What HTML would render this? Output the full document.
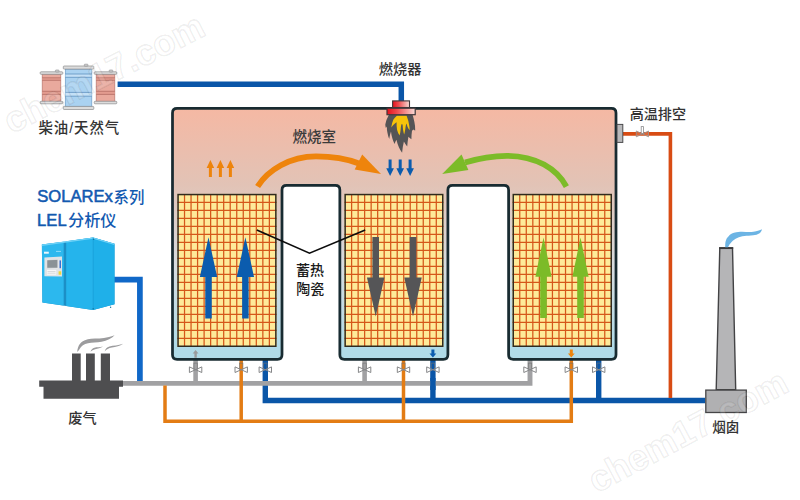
<!DOCTYPE html>
<html lang="zh"><head><meta charset="utf-8"><title>RTO</title>
<style>
html,body{margin:0;padding:0;background:#fff;}
body{width:800px;height:500px;overflow:hidden;font-family:"Liberation Sans","Noto Sans CJK SC",sans-serif;}
svg{display:block}
.lat{font-family:"Liberation Sans",sans-serif;font-size:16.6px;fill:#1259b0;stroke:#1259b0;stroke-width:.55px}
.cjk{font-family:"Liberation Sans","Noto Sans CJK SC",sans-serif;font-weight:500}
.wm{font-family:"Liberation Sans",sans-serif;font-weight:bold;font-size:36.3px;fill:#fff;fill-opacity:.14;stroke:#000;stroke-opacity:.07;stroke-width:1.6px;paint-order:stroke}
</style></head><body>
<svg width="800" height="500" viewBox="0 0 800 500">
<defs>
<linearGradient id="gv" gradientUnits="userSpaceOnUse" x1="0" y1="108" x2="0" y2="360">
<stop offset="0" stop-color="#f5b8a3"/><stop offset=".305" stop-color="#e2c3b6"/><stop offset=".63" stop-color="#d7dce0"/><stop offset=".95" stop-color="#b0dbe8"/><stop offset="1" stop-color="#b0dbe8"/>
</linearGradient>
<linearGradient id="gr" x1="0" y1="0" x2="1" y2="0"><stop offset="0" stop-color="#e5101c"/><stop offset=".35" stop-color="#ee4a4e"/><stop offset="1" stop-color="#f8dcd6"/></linearGradient>
</defs>
<rect width="800" height="500" fill="#fff"/>

<g id="pipes">
<path d="M117.6,84.2 L401.3,84.2 L401.3,101" fill="none" stroke="#0a56a8" stroke-width="5.5" stroke-linejoin="miter" />
<path d="M114,279.6 L139.9,279.6 L139.9,381" fill="none" stroke="#1068c8" stroke-width="5.7" stroke-linejoin="miter" />
<path d="M265.3,360 L265.3,400.5 L705,400.5" fill="none" stroke="#0a56a8" stroke-width="5.4" stroke-linejoin="miter" />
<path d="M432.9,360 L432.9,400.5" fill="none" stroke="#0a56a8" stroke-width="5.4" stroke-linejoin="miter" />
<path d="M598.7,360 L598.7,400.5" fill="none" stroke="#0a56a8" stroke-width="5.4" stroke-linejoin="miter" />
<path d="M122,383.4 L530,383.4 L530,360" fill="none" stroke="#a1a1a3" stroke-width="4.9" stroke-linejoin="miter" />
<path d="M195.6,360 L195.6,383" fill="none" stroke="#a1a1a3" stroke-width="4.6" stroke-linejoin="miter" />
<path d="M364.6,360 L364.6,383" fill="none" stroke="#a1a1a3" stroke-width="4.6" stroke-linejoin="miter" />
<path d="M432.9,378 L432.9,390" fill="none" stroke="#0a56a8" stroke-width="5.4" stroke-linejoin="miter" />
<path d="M623,133.9 L670.4,133.9 L670.4,398" fill="none" stroke="#d84c14" stroke-width="3.6" stroke-linejoin="miter" />
<path d="M165,385.5 L165,421.2 L571.3,421.2 L571.3,360" fill="none" stroke="#e37c14" stroke-width="3.5" stroke-linejoin="miter" />
<path d="M241.2,360 L241.2,421.2" fill="none" stroke="#e37c14" stroke-width="3.5" stroke-linejoin="miter" />
<path d="M403.5,360 L403.5,421.2" fill="none" stroke="#e37c14" stroke-width="3.5" stroke-linejoin="miter" />
</g>
<g id="valves">
<rect x="193.9" y="363.1" width="3.4" height="6.4" fill="none" stroke="#6f7072" stroke-opacity=".8" stroke-width=".8"/>
<path d="M189.4,366.9 L201.8,372.5 L201.8,366.9 L189.4,372.5 Z" fill="#fff" fill-opacity=".22" stroke="#858688" stroke-width="1" stroke-linejoin="round"/>
<rect x="239.5" y="363.1" width="3.4" height="6.4" fill="none" stroke="#6f7072" stroke-opacity=".8" stroke-width=".8"/>
<path d="M235,366.9 L247.4,372.5 L247.4,366.9 L235,372.5 Z" fill="#fff" fill-opacity=".22" stroke="#858688" stroke-width="1" stroke-linejoin="round"/>
<rect x="263.6" y="363.1" width="3.4" height="6.4" fill="none" stroke="#6f7072" stroke-opacity=".8" stroke-width=".8"/>
<path d="M259.1,366.9 L271.5,372.5 L271.5,366.9 L259.1,372.5 Z" fill="#fff" fill-opacity=".22" stroke="#858688" stroke-width="1" stroke-linejoin="round"/>
<rect x="362.9" y="363.1" width="3.4" height="6.4" fill="none" stroke="#6f7072" stroke-opacity=".8" stroke-width=".8"/>
<path d="M358.4,366.9 L370.8,372.5 L370.8,366.9 L358.4,372.5 Z" fill="#fff" fill-opacity=".22" stroke="#858688" stroke-width="1" stroke-linejoin="round"/>
<rect x="401.8" y="363.1" width="3.4" height="6.4" fill="none" stroke="#6f7072" stroke-opacity=".8" stroke-width=".8"/>
<path d="M397.3,366.9 L409.7,372.5 L409.7,366.9 L397.3,372.5 Z" fill="#fff" fill-opacity=".22" stroke="#858688" stroke-width="1" stroke-linejoin="round"/>
<rect x="431.2" y="363.1" width="3.4" height="6.4" fill="none" stroke="#6f7072" stroke-opacity=".8" stroke-width=".8"/>
<path d="M426.7,366.9 L439.1,372.5 L439.1,366.9 L426.7,372.5 Z" fill="#fff" fill-opacity=".22" stroke="#858688" stroke-width="1" stroke-linejoin="round"/>
<rect x="528.3" y="363.1" width="3.4" height="6.4" fill="none" stroke="#6f7072" stroke-opacity=".8" stroke-width=".8"/>
<path d="M523.8,366.9 L536.2,372.5 L536.2,366.9 L523.8,372.5 Z" fill="#fff" fill-opacity=".22" stroke="#858688" stroke-width="1" stroke-linejoin="round"/>
<rect x="569.6" y="363.1" width="3.4" height="6.4" fill="none" stroke="#6f7072" stroke-opacity=".8" stroke-width=".8"/>
<path d="M565.1,366.9 L577.5,372.5 L577.5,366.9 L565.1,372.5 Z" fill="#fff" fill-opacity=".22" stroke="#858688" stroke-width="1" stroke-linejoin="round"/>
<rect x="597" y="363.1" width="3.4" height="6.4" fill="none" stroke="#6f7072" stroke-opacity=".8" stroke-width=".8"/>
<path d="M592.5,366.9 L604.9,372.5 L604.9,366.9 L592.5,372.5 Z" fill="#fff" fill-opacity=".22" stroke="#858688" stroke-width="1" stroke-linejoin="round"/>
<rect x="641.2" y="126.6" width="2.2" height="7" fill="#fff" stroke="#8a8b8d" stroke-width=".8"/>
<path d="M636.3,131 L648.5,136.8 L648.5,131 L636.3,136.8 Z" fill="#fff" fill-opacity=".15" stroke="#9b8f8a" stroke-width=".9" stroke-linejoin="round"/>
</g>
<path id="vessel" d="M172.5,113 Q172.5,108.4 177.1,108.4 H611.4 Q616,108.4 616,113 V354.7 Q616,359.3 611.4,359.3 H513.2 Q508.6,359.3 508.6,354.7 V190 Q508.6,185.4 504,185.4 H452.5 Q447.9,185.4 447.9,190 V354.7 Q447.9,359.3 443.3,359.3 H344.45 Q339.85,359.3 339.85,354.7 V190 Q339.85,185.4 335.25,185.4 H286.6 Q282,185.4 282,190 V354.7 Q282,359.3 277.4,359.3 H177.1 Q172.5,359.3 172.5,354.7 Z" fill="url(#gv)" stroke="#182b31" stroke-width="2.75"/>
<rect x="617" y="124.4" width="5.8" height="18" fill="#b9b9bb" stroke="#4a4a4c" stroke-width="1"/>
<g id="beds">
<rect x="177.4" y="193.9" width="99.1" height="153" fill="#feea99"/>
<path d="M184.53,193.9 V346.9 M191.05,193.9 V346.9 M197.58,193.9 V346.9 M204.11,193.9 V346.9 M210.63,193.9 V346.9 M217.16,193.9 V346.9 M223.69,193.9 V346.9 M230.21,193.9 V346.9 M236.74,193.9 V346.9 M243.27,193.9 V346.9 M249.79,193.9 V346.9 M256.32,193.9 V346.9 M262.85,193.9 V346.9 M269.37,193.9 V346.9 M177.4,202.49 H276.5 M177.4,210.48 H276.5 M177.4,218.47 H276.5 M177.4,226.46 H276.5 M177.4,234.45 H276.5 M177.4,242.44 H276.5 M177.4,250.43 H276.5 M177.4,258.42 H276.5 M177.4,266.41 H276.5 M177.4,274.39 H276.5 M177.4,282.38 H276.5 M177.4,290.37 H276.5 M177.4,298.36 H276.5 M177.4,306.35 H276.5 M177.4,314.34 H276.5 M177.4,322.33 H276.5 M177.4,330.32 H276.5 M177.4,338.31 H276.5" stroke="#d5571a" stroke-width="1.25" fill="none"/>
<rect x="178.05" y="194.55" width="97.8" height="151.7" fill="none" stroke="#2f2a1e" stroke-width="1.5"/>
<rect x="344.5" y="193.9" width="98.9" height="153" fill="#feea99"/>
<path d="M351.61,193.9 V346.9 M358.13,193.9 V346.9 M364.64,193.9 V346.9 M371.15,193.9 V346.9 M377.67,193.9 V346.9 M384.18,193.9 V346.9 M390.69,193.9 V346.9 M397.21,193.9 V346.9 M403.72,193.9 V346.9 M410.23,193.9 V346.9 M416.75,193.9 V346.9 M423.26,193.9 V346.9 M429.77,193.9 V346.9 M436.29,193.9 V346.9 M344.5,202.49 H443.4 M344.5,210.48 H443.4 M344.5,218.47 H443.4 M344.5,226.46 H443.4 M344.5,234.45 H443.4 M344.5,242.44 H443.4 M344.5,250.43 H443.4 M344.5,258.42 H443.4 M344.5,266.41 H443.4 M344.5,274.39 H443.4 M344.5,282.38 H443.4 M344.5,290.37 H443.4 M344.5,298.36 H443.4 M344.5,306.35 H443.4 M344.5,314.34 H443.4 M344.5,322.33 H443.4 M344.5,330.32 H443.4 M344.5,338.31 H443.4" stroke="#d5571a" stroke-width="1.25" fill="none"/>
<rect x="345.15" y="194.55" width="97.6" height="151.7" fill="none" stroke="#2f2a1e" stroke-width="1.5"/>
<rect x="512.6" y="193.9" width="99.3" height="153" fill="#feea99"/>
<path d="M519.74,193.9 V346.9 M526.28,193.9 V346.9 M532.82,193.9 V346.9 M539.36,193.9 V346.9 M545.90,193.9 V346.9 M552.44,193.9 V346.9 M558.98,193.9 V346.9 M565.52,193.9 V346.9 M572.06,193.9 V346.9 M578.60,193.9 V346.9 M585.14,193.9 V346.9 M591.68,193.9 V346.9 M598.22,193.9 V346.9 M604.76,193.9 V346.9 M512.6,202.49 H611.9 M512.6,210.48 H611.9 M512.6,218.47 H611.9 M512.6,226.46 H611.9 M512.6,234.45 H611.9 M512.6,242.44 H611.9 M512.6,250.43 H611.9 M512.6,258.42 H611.9 M512.6,266.41 H611.9 M512.6,274.39 H611.9 M512.6,282.38 H611.9 M512.6,290.37 H611.9 M512.6,298.36 H611.9 M512.6,306.35 H611.9 M512.6,314.34 H611.9 M512.6,322.33 H611.9 M512.6,330.32 H611.9 M512.6,338.31 H611.9" stroke="#d5571a" stroke-width="1.25" fill="none"/>
<rect x="513.25" y="194.55" width="98" height="151.7" fill="none" stroke="#2f2a1e" stroke-width="1.5"/>
</g>
<g id="arrows">
<path d="M208.5,237.3 L217.15,277 H211.75 V318.4 H205.25 V277 H199.85 Z" fill="#0b5cae"/>
<path d="M245.4,237.3 L254.05,277 H248.65 V318.4 H242.15 V277 H236.75 Z" fill="#0b5cae"/>
<path d="M375.7,316.6 L384.45,277.6 H379 V237 H372.4 V277.6 H366.95 Z" fill="#555557"/>
<path d="M413,316.6 L421.75,277.6 H416.3 V237 H409.7 V277.6 H404.25 Z" fill="#555557"/>
<path d="M543.5,237.6 L551.6,276.8 H546.8 V317.9 H540.2 V276.8 H535.4 Z" fill="#7cbb28"/>
<path d="M580.5,237.6 L588.6,276.8 H583.8 V317.9 H577.2 V276.8 H572.4 Z" fill="#7cbb28"/>
<path d="M210.4,160 L214.2,168 H211.9 V177 H208.9 V168 H206.6 Z" fill="#ee840c"/>
<path d="M220.4,160 L224.2,168 H221.9 V177 H218.9 V168 H216.6 Z" fill="#ee840c"/>
<path d="M230.4,160 L234.2,168 H231.9 V177 H228.9 V168 H226.6 Z" fill="#ee840c"/>
<path d="M390.1,176 L393.95,168.3 H391.6 V159.6 H388.6 V168.3 H386.25 Z" fill="#0b5cae"/>
<path d="M400.2,176 L404.05,168.3 H401.7 V159.6 H398.7 V168.3 H396.35 Z" fill="#0b5cae"/>
<path d="M410.1,176 L413.95,168.3 H411.6 V159.6 H408.6 V168.3 H406.25 Z" fill="#0b5cae"/>
<path d="M195.6,350 L198.5,353.6 H196.8 V357.8 H194.4 V353.6 H192.7 Z" fill="#9a9b9d"/>
<path d="M432.9,357.6 L436.3,353.6 H434.4 V349.6 H431.4 V353.6 H429.5 Z" fill="#0b5cae"/>
<path d="M571.3,357.6 L574.7,353.6 H572.8 V349.6 H569.8 V353.6 H567.9 Z" fill="#ee840c"/>
<path d="M257.6,186.5 C268,170 290,156.4 316,156.4 C332,156.4 346,158.5 359,163.5" fill="none" stroke="#ee840c" stroke-width="5.8"/>
<path d="M362.2,154.6 L381,174.1 L354.7,169.6 Z" fill="#ee840c"/>
<path d="M566.4,186.7 C557,169 536,155.8 507,155.8 C492,155.8 478,158.5 465,162.5" fill="none" stroke="#7cbb28" stroke-width="5.7"/>
<path d="M461.5,154.6 L442.2,174.1 L468.4,170 Z" fill="#7cbb28"/>
</g>
<g id="burner">
<path d="M388.8,115 Q386.2,119.5 385.3,124.6 Q385.3,126.4 385.9,127.9 L386.9,126.4 Q386.8,130 387.4,132.4 Q388,136 389.2,139 Q389.8,135 391,131.4 Q391.4,135.5 392.4,138.6 Q393.2,141.5 394.6,144.1 Q395.2,142 396.4,139.8 Q397.4,144 399,147.4 Q400.4,150.4 402.1,152.8 Q402.6,147 403.9,141.6 Q405.2,144.2 407.2,146.5 Q407.6,141.5 408.4,136.8 Q409.6,138.2 411.4,139.3 Q411.4,135 412,130.8 L413.5,129.4 Q414.4,130.2 415.2,130.5 Q415.3,126 414.4,122 Q413.6,118 412.6,115 Z" fill="#545456"/>
<path d="M396.9,115.8 Q394.6,117.6 393.3,119.8 Q391.8,123.4 391.2,127.4 Q393.2,124.6 395.5,122.9 L396.6,122.3 Q396.4,126.5 397.1,130.1 Q397.8,133 399.6,135.6 Q400.3,133 400.6,130 Q400.8,127 401.4,124.3 Q402,124 402.6,124.4 Q402.8,128 403.2,130.6 Q403.5,132.8 404.2,134.4 Q404.9,132 405.3,129 Q405.6,126 406.3,123.4 Q407,124.5 407.4,126.5 Q408.2,128.6 409.7,130.2 Q409.6,127 409,124.3 Q408.4,120.5 407.2,117.5 L406.6,115.8 Z" fill="#f6c30a"/>
<rect x="392.6" y="100.9" width="16.9" height="6.6" fill="url(#gr)" stroke="#40383a" stroke-width="1.1"/>
<rect x="387" y="108.2" width="28.2" height="6.5" fill="url(#gr)" stroke="#40383a" stroke-width="1.2"/>
</g>
<path d="M256.8,230 L309.5,253.2 L365.2,230" fill="none" stroke="#0c0c0c" stroke-width="1.7"/>
<g id="barrels">
<rect x="42.2" y="74.3" width="18.6" height="27" fill="#e9a99d" stroke="#b8776e" stroke-width=".7"/>
<rect x="42.5" y="77.8" width="18" height="2.5" fill="#e39b8f"/>
<path d="M42.2,77.8 H60.8 M42.2,80.3 H60.8" stroke="#b46d64" stroke-width=".8"/>
<rect x="42.5" y="91.3" width="18" height="3.1" fill="#e39b8f"/>
<path d="M42.2,91.3 H60.8 M42.2,94.4 H60.8" stroke="#b46d64" stroke-width=".8"/>
<rect x="40.2" y="71.8" width="22.6" height="2.5" rx=".8" fill="#dcdcdc" stroke="#8c8c8e" stroke-width=".7"/>
<rect x="40.2" y="101.3" width="22.6" height="2.5" rx=".8" fill="#dcdcdc" stroke="#8c8c8e" stroke-width=".7"/>
<rect x="55.4" y="70" width="3.6" height="2" rx=".6" fill="#cfcfcf" stroke="#8c8c8e" stroke-width=".6"/>
<rect x="96.2" y="74.3" width="18.6" height="27" fill="#e9a99d" stroke="#b8776e" stroke-width=".7"/>
<rect x="96.5" y="77.8" width="18" height="2.5" fill="#e39b8f"/>
<path d="M96.2,77.8 H114.8 M96.2,80.3 H114.8" stroke="#b46d64" stroke-width=".8"/>
<rect x="96.5" y="91.3" width="18" height="3.1" fill="#e39b8f"/>
<path d="M96.2,91.3 H114.8 M96.2,94.4 H114.8" stroke="#b46d64" stroke-width=".8"/>
<rect x="94.2" y="71.8" width="22.6" height="2.5" rx=".8" fill="#dcdcdc" stroke="#8c8c8e" stroke-width=".7"/>
<rect x="94.2" y="101.3" width="22.6" height="2.5" rx=".8" fill="#dcdcdc" stroke="#8c8c8e" stroke-width=".7"/>
<rect x="109.2" y="70" width="3.6" height="2" rx=".6" fill="#cfcfcf" stroke="#8c8c8e" stroke-width=".6"/>
<rect x="65.3" y="69.1" width="26.5" height="37.3" fill="#aad2f1" stroke="#6c9cc6" stroke-width=".7"/>
<rect x="65.6" y="74" width="25.9" height="3.3" fill="#c4e0f6"/>
<path d="M65.3,74 H91.8 M65.3,77.3 H91.8" stroke="#5f92c0" stroke-width=".8"/>
<rect x="65.6" y="92.4" width="25.9" height="3.8" fill="#c4e0f6"/>
<path d="M65.3,92.4 H91.8 M65.3,96.2 H91.8" stroke="#5f92c0" stroke-width=".8"/>
<rect x="63.3" y="66" width="30.5" height="3.1" rx=".8" fill="#dcdcdc" stroke="#8c8c8e" stroke-width=".7"/>
<rect x="63.3" y="106.4" width="30.5" height="3.1" rx=".8" fill="#dcdcdc" stroke="#8c8c8e" stroke-width=".7"/>
<rect x="84.3" y="64.2" width="3.6" height="2" rx=".6" fill="#cfcfcf" stroke="#8c8c8e" stroke-width=".6"/>
</g>
<g id="analyzer">
<path d="M41.9,244.6 L63.9,241.7 L93.1,237.4 L114.5,243.8 L114.5,304.2 L93.1,310.1 L66.2,305.9 L42.4,302.5 Z" fill="#1c8fc6"/>
<path d="M41.9,244.6 L63.7,241.7 L63.7,305.5 L42.4,302.5 Z" fill="#2cb8ee"/>
<path d="M66.2,241.3 L93.1,237.4 L93.1,310.1 L66.2,305.9 Z" fill="#25b4ec"/>
<path d="M93.1,237.4 L114.5,243.8 L114.5,304.2 L93.1,310.1 Z" fill="#1fb0e9"/>
<path d="M41.9,244.6 L93.1,237.4 L114.5,243.8 L114.5,245 L93.1,238.8 L41.9,245.9 Z" fill="#6fd2f7"/>
<path d="M93.1,238 V310" stroke="#1a9cd4" stroke-width=".6"/>
<path d="M44.4,257.4 L62,256.6 L62,276.6 L44.4,276.3 Z" fill="#dfe3e6"/>
<path d="M46.9,259.9 L57.8,259.4 L57.8,268.1 L46.9,268.2 Z" fill="#8a9296" stroke="#f5f5f5" stroke-width=".5"/>
<rect x="46.9" y="269.9" width="9.3" height="4.8" fill="#f7f7f7"/>
<path d="M47.5,271.5 H55.5 M47.5,273.2 H55.5" stroke="#b8bcc0" stroke-width=".5"/>
<rect x="59.5" y="260.4" width="1.5" height="7.8" fill="#3a6fd2"/>
<rect x="58.6" y="271.3" width="2.6" height="3.4" fill="#ecd53a"/>
<rect x="44" y="251.7" width="4.8" height="2" fill="#eaf7fd"/>
<rect x="56" y="250.9" width="5" height="1" fill="#8fdcf8"/>
<circle cx="93.6" cy="239.2" r=".7" fill="#14739f"/><circle cx="93.2" cy="308.8" r=".7" fill="#14739f"/><circle cx="110.6" cy="307.2" r=".7" fill="#14739f"/>
</g>
<g id="factory">
<path d="M39.2,380.4 H72 V353.6 H80.7 V380.4 H86 V353.6 H94.8 V380.4 H100.8 V353.6 H110 V380.4 H123 V386.7 H119 V398.7 H43.5 V386.7 H39.2 Z" fill="#4e4e50"/>
<path d="M77.2,351.8 C77.8,346.5 79.6,343.6 82.4,341.6 C85.6,339.3 89.4,338.6 95,338.5 C101,338.4 106.5,338 114.6,335.2 C111.8,338.6 107,340.6 101.6,341.8 C97,342.7 92,342.5 88,343.2 C84,344 81.2,346 79.6,349 C78.8,350.4 78,351.4 77.2,351.8 Z" fill="#9c9c9e"/>
<path d="M90.5,351.8 C91.2,349.6 92.4,348.4 94.4,347.8 C97,347.1 99.8,347.4 103,346.6 C100.6,348.2 97.6,348.6 95.2,349.2 C93.2,349.7 91.8,350.6 90.5,351.8 Z" fill="#9c9c9e"/>
<path d="M104.6,351.6 C105.4,349 106.8,347.4 109.4,346.6 C113.6,345.4 118,345.6 123.2,343.8 C120,346 115.6,346.9 112,347.6 C108.6,348.2 106.4,349.4 104.6,351.6 Z" fill="#9c9c9e"/>
</g>
<g id="chimney">
<path d="M719.8,248 H732.5 L735.7,389.8 H716.2 Z" fill="#b5b5b7" stroke="#434345" stroke-width="1.4" stroke-linejoin="miter"/>
<path d="M719.1,248.1 H733.2" stroke="#3a3a3c" stroke-width="1.9"/>
<rect x="705.8" y="390.1" width="40.5" height="22.4" fill="#b0b0b2" stroke="#454547" stroke-width="1.3"/>
<path d="M725.2,247.2 C725.2,244 725.4,242.5 725.6,241.6 C726.2,239 727,237.6 728.4,236.4 C730,234.6 732,233.4 734,232.8 C737,232 739.6,231.8 742,231.8 C745.6,231.8 748.6,232.2 751.6,232 C754,231.8 756,231.4 758,230.8 C759.6,230.3 761,229.8 762,229.2 C761.6,230.8 760.8,232.2 759.6,233.2 C757.6,234.4 755.6,235 753.2,235.2 C750,235.6 747.4,235.6 744.4,236 C741.6,236.4 739.4,237 737.2,238 C735,239 733.2,240.2 731.6,242 C730,243.8 728.8,245.4 728,247.2 Z" fill="#6cb4e4"/>
</g>
<g id="labels">
<text class="cjk" x="38.5" y="133" font-size="14.4" fill="#333333" textLength="80.7" lengthAdjust="spacing">柴油/天然气</text>
<text class="cjk" x="378.8" y="74.2" font-size="14.2" fill="#333333">燃烧器</text>
<text class="cjk" x="292.6" y="141.8" font-size="14.5" fill="#3a3a3a">燃烧室</text>
<text class="cjk" x="629.7" y="119.3" font-size="14.1" fill="#333333">高温排空</text>
<text class="cjk" x="296" y="274.7" font-size="14" fill="#1a1a1a" font-weight="bold">蓄热</text>
<text class="cjk" x="296.3" y="293.5" font-size="14" fill="#1a1a1a" font-weight="bold">陶瓷</text>
<text class="cjk" x="68.2" y="423.1" font-size="14.2" fill="#333333">废气</text>
<text class="cjk" x="712.2" y="432.2" font-size="13.6" fill="#333333">烟囱</text>
<text class="cjk" x="113.6" y="202.6" font-size="15.4" fill="#1259b0" font-weight="bold">系列</text>
<text class="cjk" x="68" y="225.8" font-size="16.2" fill="#1259b0" font-weight="bold">分析仪</text>
<text class="lat" x="37.3" y="201.6">SOLAREx</text>
<text class="lat" x="37.1" y="225.6">LEL</text>
</g>
<g id="wm">
<text class="wm" transform="translate(11.5,134.2) rotate(-27)">chem17.com</text>
<text class="wm" transform="translate(596.5,493.6) rotate(-28)">chem17.com</text>
</g>
</svg>
</body></html>
